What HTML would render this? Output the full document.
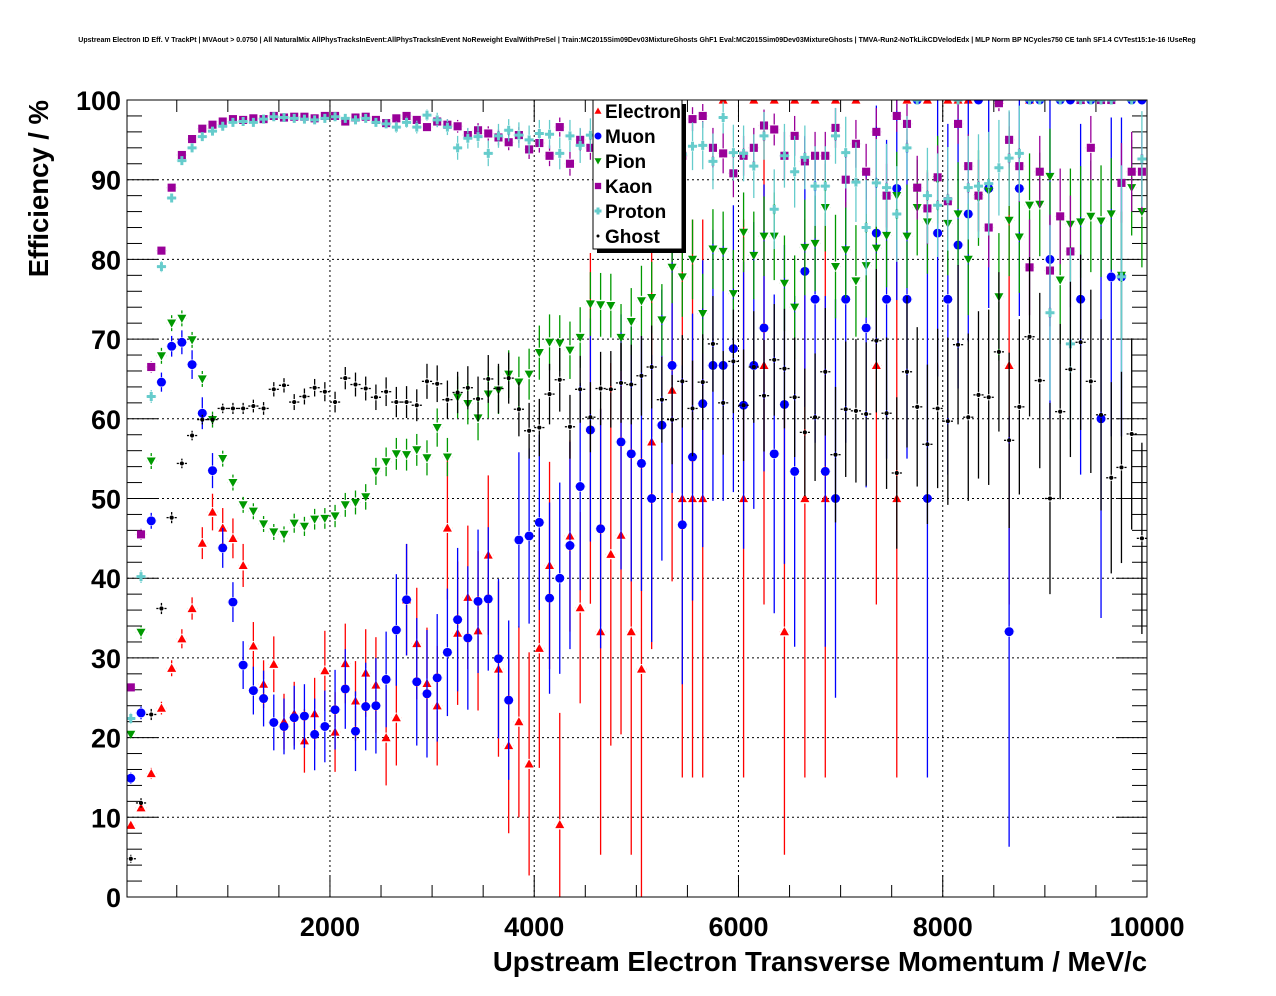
<!DOCTYPE html>
<html><head><meta charset="utf-8"><style>
html,body{margin:0;padding:0;background:#fff;}
svg{display:block;font-family:"Liberation Sans",Arial,sans-serif;}
</style></head><body>
<svg id="chart" width="1276" height="996" viewBox="0 0 1276 996">
<defs><clipPath id="plotclip"><rect x="127" y="100" width="1020" height="797"/></clipPath></defs>
<rect x="0" y="0" width="1276" height="996" fill="#fff"/>
<text x="637" y="42" font-size="7" font-weight="bold" text-anchor="middle">Upstream Electron ID Eff. V TrackPt | MVAout &gt; 0.0750 | All NaturalMix AllPhysTracksInEvent:AllPhysTracksInEvent NoReweight EvalWithPreSel | Train:MC2015Sim09Dev03MixtureGhosts GhF1 Eval:MC2015Sim09Dev03MixtureGhosts | TMVA-Run2-NoTkLikCDVelodEdx | MLP Norm BP NCycles750 CE tanh SF1.4 CVTest15:1e-16 !UseReg</text>
<g id="grid"></g>
<g id="axes"></g>
<g id="marks" clip-path="url(#plotclip)"></g>
<rect x="127" y="100" width="1020" height="797" fill="none" stroke="#000" stroke-width="1"/>
<text transform="translate(48,100) rotate(-90)" font-size="27.5" font-weight="bold" text-anchor="end">Efficiency / %</text>
<text x="1147" y="971" font-size="27.5" font-weight="bold" text-anchor="end">Upstream Electron Transverse Momentum / MeV/c</text>
<g id="legend">
<rect x="597" y="104" width="89" height="149" fill="#000"/>
<rect x="593" y="100" width="89" height="149" fill="#fff" stroke="#000" stroke-width="1"/>
</g>
</svg>
<script>
const categories = [];
for (let i = 0; i < 100; i++) categories.push(50 + 100 * i);
const xTicks = [2000, 4000, 6000, 8000, 10000];
const yTicks = [0, 10, 20, 30, 40, 50, 60, 70, 80, 90, 100];
const seriesNames = ["Electron", "Muon", "Pion", "Kaon", "Proton", "Ghost"];

const electronVals = [9,11.2,15.5,23.7,28.7,32.4,36.2,44.4,48.3,46.3,45,41.6,31.5,26.7,29.2,22,23,19.6,23,28.4,20.7,29.3,24.6,28.1,26.6,20,22.5,37.3,31.8,26.8,24,46.3,33.1,37.6,33.4,42.9,28.6,19,22,16.7,31.2,41.6,9.1,45.3,36.3,58.8,33.3,43,45.4,33.3,28.6,57.1,null,63.6,50,50,50,null,100,null,50,100,66.7,100,33.3,100,50,100,50,100,null,100,null,66.7,null,50,100,null,100,null,100,100,100,null,null,100,66.7,null,100,null,null,null,null,100,null,null,null,null,null,null];
const electronErr = [0.5,0.6,0.7,0.8,1,1.2,1.4,2,2.3,2.5,2.5,2.7,3,3,3.5,3.5,4,4,4.5,5,5,5,5,5.5,6,6,6,7,7,7,7.5,9,9,9,10,10,11,11,12,14,15,13,14,12,12,22,28,24,25,28,30,26,0,24,35,35,35,0,0,0,35,0,30,0,28,0,35,0,35,0,0,0,0,30,0,35,0,0,0,0,0,0,0,0,0,0,30,0,0,0,0,0,0,0,0,0,0,0,0,0];
const muonVals = [14.9,23.1,47.2,64.6,69.1,69.6,66.8,60.7,53.5,43.8,37,29.1,25.9,24.9,21.9,21.4,22.5,22.7,20.4,21.4,23.5,26.1,20.8,23.9,24,27.3,33.5,37.3,27,25.5,27.5,30.7,34.8,32.5,37.1,37.4,29.9,24.7,44.8,45.3,47,37.5,40,44.1,51.5,58.6,46.2,null,57.1,55.6,54.4,50,59.2,66.7,46.7,55.2,61.9,66.7,66.7,68.8,61.7,66.7,71.4,55.6,61.8,53.4,78.5,75,53.4,50,75,null,71.4,83.3,75,88.9,75,100,50,83.3,75,81.8,85.7,100,88.9,100,33.3,88.9,100,100,80,100,100,75,100,60,77.8,77.8,100,100];
const muonErr = [0.7,0.8,1,1.2,1.3,1.5,1.8,2,2.2,2.5,2.5,3,3,3.5,3.5,3.5,4,4,4.5,4.5,5,5,5,5.5,6,6,7,7,8,8,8,8,9,9,9,9,10,10,11,11,11,12,12,13,13,14,15,0,16,16,16,18,17,16,20,18,18,17,17,18,18,18,18,20,20,22,17,18,22,25,18,0,20,16,20,14,20,0,35,18,22,18,16,0,15,0,27,16,0,0,20,0,0,22,0,25,20,20,0,0];
const pionVals = [20.4,33.2,54.7,67.9,72,72.6,69.9,65,59.9,55,52,49.2,48.4,46.8,45.8,45.5,46.9,46.5,47.4,47.5,47.8,49.2,49.5,50.2,53.4,54.6,55.6,55.5,56.1,55.1,58.9,55.2,62.7,61.9,60.1,63.1,63.6,65.6,64.6,65.6,68.3,69.6,69.5,68.6,70.2,74.4,74.3,74.2,70.2,72.2,74.8,75.2,72.4,79,77.8,80,73.2,81.3,81,75.7,83.4,80.5,82.9,82.9,77,74,81.5,82,86.5,79.1,81.2,77.3,79.2,81.4,83,88,82.9,86.5,84.7,90,84.5,85.7,80,87.7,88.6,75.3,84.9,82.8,86.8,86.9,90.4,77.4,84.4,84.7,85.4,84.8,85.7,78,89,86];
const pionErr = [0.6,0.8,1,1,1,1,1,1,1,1,1,1,1,1,1,1,1.2,1.2,1.3,1.3,1.4,1.5,1.5,1.6,1.7,1.8,2,2,2,2.2,2.4,2.4,2.6,2.6,2.8,3,3,3,3.2,3.2,3.4,3.5,3.5,3.6,3.8,4,4,4,4.2,4.2,4.4,4.5,4.5,4.5,5,5,5,5,5,5.5,5,5.5,5,5.5,6,6.5,6,6,5.5,6.5,6,7,6.5,6.5,6.5,5.5,6.5,6,6.5,5.5,6.5,6.5,7,6,6,8,7,7,6.5,6.5,6,8,7,7,7,7,7,8,6,7];
const kaonVals = [26.3,45.5,66.5,81.1,89,93.1,95.1,96.4,96.9,97.3,97.6,97.5,97.7,97.6,98,97.8,97.9,97.9,97.7,98,98,97.3,97.8,97.9,97.5,97.1,97.7,98,97.5,96.6,97.3,96.9,96.7,95.6,96.2,95.8,95.3,94.7,95.6,93.8,94.6,93,96.6,92,95,94,94,95,95.8,93,95,94,96,96.5,93,97.6,98,94,93.3,90.8,93,94,96.8,96.3,93,95.5,92.3,93,93,96.5,90,94.5,91,96,88,98,97,89,86.4,90.3,87.3,97,91.7,88,84,99.6,95,91.7,79,91,78.6,85.4,81,100,94,100,100,89.6,91,91];
const kaonErr = [0.6,0.7,0.7,0.6,0.5,0.4,0.3,0.3,0.3,0.3,0.3,0.3,0.3,0.3,0.3,0.3,0.3,0.3,0.3,0.3,0.3,0.4,0.4,0.4,0.4,0.5,0.5,0.5,0.6,0.6,0.7,0.7,0.8,0.8,0.9,0.9,1,1,1,1.2,1.2,1.3,1.2,1.5,1.4,1.5,1.5,1.5,1.5,1.8,1.8,1.8,1.8,1.8,2,1.5,1.5,2.5,2.5,3,2.5,2.5,2,2,3,2.5,3,3,3,2.5,3.5,3,3.5,3,4,2,2.5,4,4.5,4,4.5,2.5,4,4.5,5,1,3.5,4.5,6,4.5,7,6,7,0,4,0,0,5,5,5];
const protonVals = [22.4,40.2,62.8,79.1,87.7,92.4,94,95.4,96.1,96.7,97.2,97.3,97.2,97.6,97.9,97.8,97.7,97.6,97.5,97.7,97.9,97.7,97.5,97.7,97.2,97,96.6,97.2,96.6,98.1,97.5,96.6,94,95.2,95.4,93.3,95.5,96.2,95.6,95,95.8,95.7,93.3,95.5,94.3,95.6,95.3,96.5,94.5,95.7,95.5,94.7,95.3,96.7,93.2,94.2,94.3,92.3,97.8,93.4,93.3,91.7,95.5,86.3,93,91,92.8,89.2,89.2,95.5,93.4,89.7,84,89.6,89,85.7,94,100,88,86.8,87.6,100,89,89.2,89.5,91.5,92.7,93.3,100,100,73.3,100,69.4,100,100,100,100,77.8,100,92.6];
const protonErr = [0.7,0.8,0.8,0.7,0.6,0.5,0.4,0.4,0.4,0.4,0.4,0.4,0.4,0.4,0.4,0.4,0.4,0.4,0.4,0.4,0.4,0.5,0.5,0.5,0.6,0.6,0.7,0.7,0.8,0.7,0.9,1,1.5,1.3,1.4,1.6,1.5,1.4,1.6,1.8,1.7,1.8,2,2,2.2,2.1,2.2,2,2.4,2.3,2.4,2.6,2.5,2.4,3,3,3,3.5,2,3.5,3.5,4,3,5,4,4.5,4,5,5,3.5,4.5,5,6,5.5,5.5,6,4,0,6,6.5,6.5,0,6.5,6.5,6.5,6,6,6,0,0,11,0,12,0,0,0,0,14,0,6];
const ghostVals = [4.8,11.8,22.9,36.2,47.6,54.4,57.9,59.9,59.9,61.3,61.3,61.3,61.6,61.3,63.7,64.2,62.1,62.8,63.9,63.4,62.1,65.1,64.3,63.8,62.7,63.4,62.1,62.1,61.7,64.7,64.4,62.4,63.3,63.9,62.5,65,63.8,65.1,61.2,58.5,58.9,63.1,64.9,59,63.7,60.2,63.8,63.7,64.5,64.3,65.4,66.5,62.4,59.9,64.7,61.3,64.6,69.4,62,67.2,61.7,66.5,62.9,67.4,66.3,62.7,58.3,60.2,65.9,55.5,61.2,61,60.6,69.8,60.7,53.2,65.9,61.5,56.8,61.3,59.7,69.3,60.2,63,62.7,68.4,57.3,61.5,70.3,64.8,50,60.9,66.2,69.6,64.7,60.5,52.6,53.9,58.1,45];
const ghostErr = [0.5,0.6,0.7,0.7,0.7,0.6,0.6,0.6,0.6,0.6,0.7,0.7,0.8,0.8,0.9,0.9,1,1,1.1,1.2,1.3,1.4,1.5,1.5,1.6,1.8,1.9,2,2,2.2,2.3,2.4,2.6,2.7,2.8,3,3.1,3.2,3.4,3.5,3.6,3.8,4,4,4.2,4.4,4.6,4.8,5,5,5,5.2,5.4,5.6,5.8,6,6,6,6.5,6.5,7,7,7,7,7.5,7.5,8,8,8,8.5,8.5,9,9,9,9.5,9.5,9.5,10,10,10,10.5,10,10.5,10.5,11,10,11,11,10,11,12,11,11,11,11.5,12,12,12,12,12];

function xPx(v){ return 1147 - (10000 - v) * 0.10213; }
function yPx(v){ return 897 - v * 7.97; }
const NS = "http://www.w3.org/2000/svg";
function mk(tag, attrs, parent){ const e = document.createElementNS(NS, tag); for (const k in attrs) e.setAttribute(k, attrs[k]); parent.appendChild(e); return e; }

const grid = document.getElementById('grid');
const axes = document.getElementById('axes');
const marks = document.getElementById('marks');

for (const t of yTicks) {
  if (t === 0 || t === 100) continue;
  const l = mk('line', {x1:127, x2:1147, y1:yPx(t), y2:yPx(t), stroke:'#000', 'stroke-width':1, 'stroke-dasharray':'2,3'}, grid);
  
  
}
for (const t of xTicks) {
  if (t >= 10000) continue;
  const l = mk('line', {y1:100, y2:897, x1:xPx(t), x2:xPx(t), stroke:'#000', 'stroke-width':1, 'stroke-dasharray':'2,3'}, grid);
  
  
}
for (let v = 0; v <= 100; v += 2) {
  const major = v % 10 === 0;
  const len = major ? 31 : 15;
  mk('line', {x1:127, x2:127+len, y1:yPx(v), y2:yPx(v), stroke:'#000'}, axes);
  mk('line', {x1:1147, x2:1147-len, y1:yPx(v), y2:yPx(v), stroke:'#000'}, axes);
}
for (const t of yTicks) {
  const tx = mk('text', {x:121, y:yPx(t)+10, 'font-size':27, 'font-weight':'bold', 'text-anchor':'end'}, axes);
  tx.textContent = t;
  
  
}
for (let v = 500; v <= 10000; v += 500) {
  const len = (v % 2000 === 0) ? 22 : 12;
  mk('line', {x1:xPx(v), x2:xPx(v), y1:897, y2:897-len, stroke:'#000'}, axes);
  mk('line', {x1:xPx(v), x2:xPx(v), y1:100, y2:100+len, stroke:'#000'}, axes);
}
for (const t of xTicks) {
  const tx = mk('text', {x:xPx(t), y:936, 'font-size':27, 'font-weight':'bold', 'text-anchor':'middle'}, axes);
  tx.textContent = t;
  
  
}

const colors = ['#ff0000', '#0000ff', '#009900', '#990099', '#66cccc', '#000000'];
const allVals = [electronVals, muonVals, pionVals, kaonVals, protonVals, ghostVals];
const allErr = [electronErr, muonErr, pionErr, kaonErr, protonErr, ghostErr];

function marker(kind, cx, cy, col, parent, size){
  const s = size || 4;
  if (kind === 0) return mk('polygon', {points:`${cx},${cy-s} ${cx-s},${cy+s*0.8} ${cx+s},${cy+s*0.8}`, fill:col}, parent);
  if (kind === 1) return mk('circle', {cx:cx, cy:cy, r:s, fill:col}, parent);
  if (kind === 2) return mk('polygon', {points:`${cx},${cy+s} ${cx-s},${cy-s*0.8} ${cx+s},${cy-s*0.8}`, fill:col}, parent);
  if (kind === 3) return mk('rect', {x:cx-s*0.9, y:cy-s*0.9, width:s*1.8, height:s*1.8, fill:col}, parent);
  if (kind === 4) return mk('path', {d:`M${cx-s} ${cy-1.5}h${s-1.5}v-${s-1.5}h3v${s-1.5}h${s-1.5}v3h-${s-1.5}v${s-1.5}h-3v-${s-1.5}h-${s-1.5}z`, fill:col}, parent);
  return mk('circle', {cx:cx, cy:cy, r:s*0.6, fill:col}, parent);
}

allVals.forEach((vals, si) => {
  const g = mk('g', {}, marks);
  
  
  const col = colors[si];
  const errs = allErr[si];
  vals.forEach((v, i) => {
    if (v === null) return;
    const cx = xPx(categories[i]);
    const cy = yPx(v);
    const e = errs[i] || 0;
    const r = si === 5 ? 3 : 5;
    if (e > 0) {
      const top = yPx(Math.min(100, v + e)), bot = yPx(Math.max(0, v - e));
      if (top < cy - r) mk('line', {x1:cx, x2:cx, y1:top, y2:cy - r, stroke:col, 'stroke-width':1.3}, g);
      if (bot > cy + r) mk('line', {x1:cx, x2:cx, y1:cy + r, y2:bot, stroke:col, 'stroke-width':1.3}, g);
    }
    mk('line', {x1:cx-5.1, x2:cx-r, y1:cy, y2:cy, stroke:col, 'stroke-width':1.3}, g);
    mk('line', {x1:cx+r, x2:cx+5.1, y1:cy, y2:cy, stroke:col, 'stroke-width':1.3}, g);
    const m = marker(si, cx, cy, col, g, si === 5 ? 3.5 : 4.5);
    
    
  });
});

const legend = document.getElementById('legend');
seriesNames.forEach((n, i) => {
  const cy = 111 + i * 25;
  const g = mk('g', {}, legend);
  
  
  marker(i, 598, cy, colors[i], g, i === 5 ? 2.5 : 3.5);
  const t = mk('text', {x:605, y:cy + 7, 'font-size':19, 'font-weight':'bold'}, g);
  t.textContent = n;
});
</script>
</body></html>
